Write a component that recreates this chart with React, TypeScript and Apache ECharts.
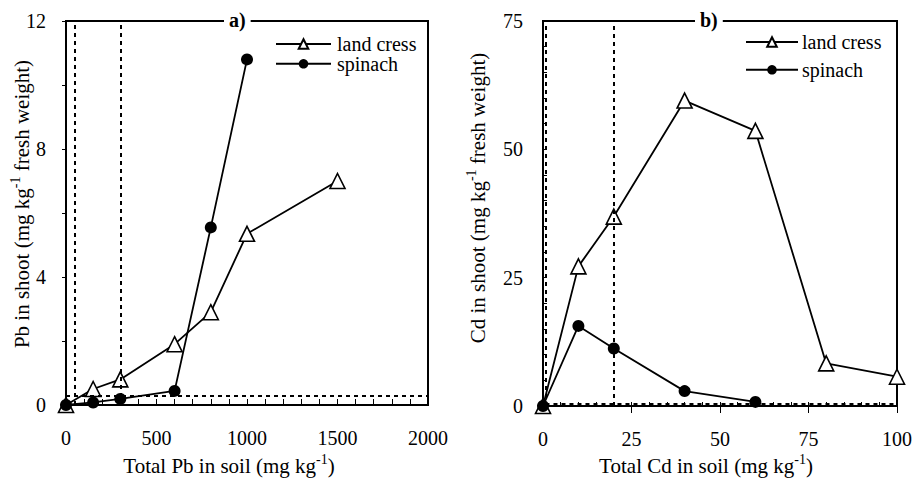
import React, { useEffect, useRef } from "react";
import * as echarts from "echarts";

// Panel a) Pb
const PB_LAND_X = [0, 150, 300, 600, 800, 1000, 1500];
const PB_LAND_Y = [0, 0.5, 0.8, 1.9, 2.9, 5.35, 7.0];
const PB_SPIN_X = [0, 150, 300, 600, 800, 1000];
const PB_SPIN_Y = [0, 0.08, 0.19, 0.44, 5.55, 10.8];
const PB_VLINES = [50, 300];
const PB_HLINE = 0.3;

// Panel b) Cd
const CD_LAND_X = [0, 10, 20, 40, 60, 80, 100];
const CD_LAND_Y = [0, 27.2, 36.9, 59.5, 53.6, 8.3, 5.7];
const CD_SPIN_X = [0, 10, 20, 40, 60];
const CD_SPIN_Y = [0, 15.6, 11.2, 2.9, 0.8];
const CD_VLINES = [0.7, 20];
const CD_HLINE = 0.4;

const SERIES_NAMES = ["land cress", "spinach"];
const PB_X_TICKS = [0, 500, 1000, 1500, 2000];
const PB_Y_TICKS = [0, 4, 8, 12];
const CD_X_TICKS = [0, 25, 50, 75, 100];
const CD_Y_TICKS = [0, 25, 50, 75];

// axis titles: [before superscript, superscript, after]
const PB_X_NAME = ["Total Pb in soil (mg kg", "-1", ")"];
const CD_X_NAME = ["Total Cd in soil (mg kg", "-1", ")"];
const PB_Y_NAME = ["Pb in shoot (mg kg", "-1", " fresh weight)"];
const CD_Y_NAME = ["Cd in shoot (mg kg", "-1", " fresh weight)"];

const FONT = "Liberation Serif";
const F20 = "20px 'Liberation Serif'";
const FNAME = "21px 'Liberation Serif'";
const FSUP = "14px 'Liberation Serif'";

const zip = (xs: number[], ys: number[]) => xs.map((x, i) => [x, ys[i]]);

let ctx: CanvasRenderingContext2D | null = null;
const measure = (text: string, font: string) => {
  if (!ctx) ctx = document.createElement("canvas").getContext("2d");
  if (!ctx) return text.length * 9;
  ctx.font = font;
  return ctx.measureText(text).width;
};

export default function App() {
  const ref = useRef<HTMLDivElement>(null);
  useEffect(() => {
    if (!ref.current) return;
    const chart = echarts.init(ref.current, null, { renderer: "svg" });
    const txt = { color: "#000", fontFamily: FONT, fontSize: 20 };
    const dotted = { type: [4, 4], width: 2, color: "#000" };
    const lineSeries = (name: string, data: number[][], xi: number, yi: number, extra: any = {}) => ({
      type: "line",
      name,
      xAxisIndex: xi,
      yAxisIndex: yi,
      data,
      symbol: name === "land cress" ? "triangle" : "circle",
      symbolSize: name === "land cress" ? 15 : 12,
      itemStyle: name === "land cress"
        ? { color: "#fff", borderColor: "#000", borderWidth: 1.6 }
        : { color: "#000", borderColor: "#000", borderWidth: 0 },
      lineStyle: { color: "#000", width: 1.8 },
      z: name === "land cress" ? 3 : 4,
      ...extra,
    });
    const labelFmt = (ticks: number[]) => (v: number) => (ticks.includes(v) ? String(v) : "");
    const plain = (text: string, x: number, y: number, font: string, align = "left") => ({
      type: "text",
      x,
      y,
      z: 10,
      style: { text, font, fill: "#000", align, verticalAlign: "middle" },
    });
    // axis title with superscript, centred at (cx, cy), optionally rotated
    const supTitle = (parts: string[], cx: number, cy: number, rot = 0) => {
      const w1 = measure(parts[0], FNAME);
      const ws = measure(parts[1], FSUP);
      const w2 = measure(parts[2], FNAME);
      const start = -(w1 + ws + w2) / 2;
      return {
        type: "group",
        x: cx,
        y: cy,
        rotation: rot,
        z: 10,
        children: [
          plain(parts[0], start, 0, FNAME),
          plain(parts[1], start + w1, -7, FSUP),
          plain(parts[2], start + w1 + ws, 0, FNAME),
        ],
      };
    };
    const option: any = {
      animation: false,
      textStyle: { fontFamily: FONT, color: "#000" },
      title: [
        { text: "a)", left: 224, top: 9, padding: [1, 5], backgroundColor: "#fff", textStyle: { ...txt, fontWeight: "bold" } },
        { text: "b)", left: 695, top: 9, padding: [1, 5], backgroundColor: "#fff", textStyle: { ...txt, fontWeight: "bold" } },
      ],
      legend: [
        {
          left: 275, top: 38, orient: "vertical", itemWidth: 55, itemHeight: 12, itemGap: 8, padding: 0,
          formatter: () => "", textStyle: { fontSize: 1 }, data: SERIES_NAMES, selectedMode: false,
        },
        {
          left: 745, top: 36, orient: "vertical", itemWidth: 52, itemHeight: 12, itemGap: 16, padding: 0,
          formatter: () => "", textStyle: { fontSize: 1 }, data: SERIES_NAMES, selectedMode: false,
        },
      ],
      graphic: [
        plain(SERIES_NAMES[0], 337, 44, F20),
        plain(SERIES_NAMES[1], 337, 64, F20),
        plain(SERIES_NAMES[0], 802, 42, F20),
        plain(SERIES_NAMES[1], 802, 70, F20),
        supTitle(PB_X_NAME, 229, 466),
        supTitle(CD_X_NAME, 706, 466),
        supTitle(PB_Y_NAME, 22, 204, Math.PI / 2),
        supTitle(CD_Y_NAME, 478, 198, Math.PI / 2),
      ],
      grid: [
        { left: 66, top: 21, width: 362, height: 384, show: true, borderColor: "#000", borderWidth: 2, backgroundColor: "transparent" },
        { left: 543, top: 21, width: 354, height: 385, show: true, borderColor: "#000", borderWidth: 2, backgroundColor: "transparent" },
      ],
      xAxis: [
        {
          gridIndex: 0, type: "value", min: 0, max: 2000, interval: 100, position: "bottom",
          axisLine: { lineStyle: { color: "#000", width: 2 } },
          axisTick: { inside: true, length: 6, lineStyle: { color: "#000", width: 1 } },
          axisLabel: { ...txt, margin: 23, formatter: labelFmt(PB_X_TICKS) },
          splitLine: { show: false },
        },
        {
          gridIndex: 1, type: "value", min: 0, max: 100, interval: 25, position: "bottom",
          axisLine: { lineStyle: { color: "#000", width: 2 } },
          axisTick: { inside: false, length: 7, lineStyle: { color: "#000", width: 1 } },
          axisLabel: { ...txt, margin: 23, formatter: labelFmt(CD_X_TICKS) },
          splitLine: { show: false },
        },
        {
          gridIndex: 1, type: "value", min: 0, max: 100, interval: 5, position: "bottom",
          axisLine: { show: false },
          axisTick: { inside: true, length: 4, lineStyle: { color: "#000", width: 1 } },
          axisLabel: { show: false },
          splitLine: { show: false },
        },
      ],
      yAxis: [
        {
          gridIndex: 0, type: "value", min: 0, max: 12, interval: 2, position: "left",
          axisLine: { lineStyle: { color: "#000", width: 2 } },
          axisTick: { inside: false, length: 4, lineStyle: { color: "#000", width: 1 } },
          axisLabel: { ...txt, margin: 20, formatter: labelFmt(PB_Y_TICKS) },
          splitLine: { show: false },
        },
        {
          gridIndex: 1, type: "value", min: 0, max: 75, interval: 5, position: "left",
          axisLine: { lineStyle: { color: "#000", width: 2 } },
          axisTick: { inside: true, length: 4, lineStyle: { color: "#000", width: 1 } },
          axisLabel: { ...txt, margin: 20, formatter: labelFmt(CD_Y_TICKS) },
          splitLine: { show: false },
        },
      ],
      series: [
        lineSeries("land cress", zip(PB_LAND_X, PB_LAND_Y), 0, 0, {
          markLine: {
            silent: true, symbol: "none", label: { show: false }, lineStyle: dotted,
            data: [
              ...PB_VLINES.map((v) => ({ xAxis: v })),
              [{ coord: [0, PB_HLINE] }, { coord: [2000, PB_HLINE] }],
            ],
          },
        }),
        lineSeries("spinach", zip(PB_SPIN_X, PB_SPIN_Y), 0, 0),
        lineSeries("land cress", zip(CD_LAND_X, CD_LAND_Y), 1, 1, {
          markLine: {
            silent: true, symbol: "none", label: { show: false }, lineStyle: dotted,
            data: [
              ...CD_VLINES.map((v) => ({ xAxis: v })),
              [{ coord: [CD_VLINES[0], CD_HLINE] }, { coord: [100, CD_HLINE] }],
            ],
          },
        }),
        lineSeries("spinach", zip(CD_SPIN_X, CD_SPIN_Y), 1, 1),
      ],
    };
    chart.setOption(option);
    return () => chart.dispose();
  }, []);
  return (
    <div
      ref={ref}
      style={{ position: "fixed", left: 0, top: 0, width: 916, height: 481, background: "#fff" }}
    />
  );
}
